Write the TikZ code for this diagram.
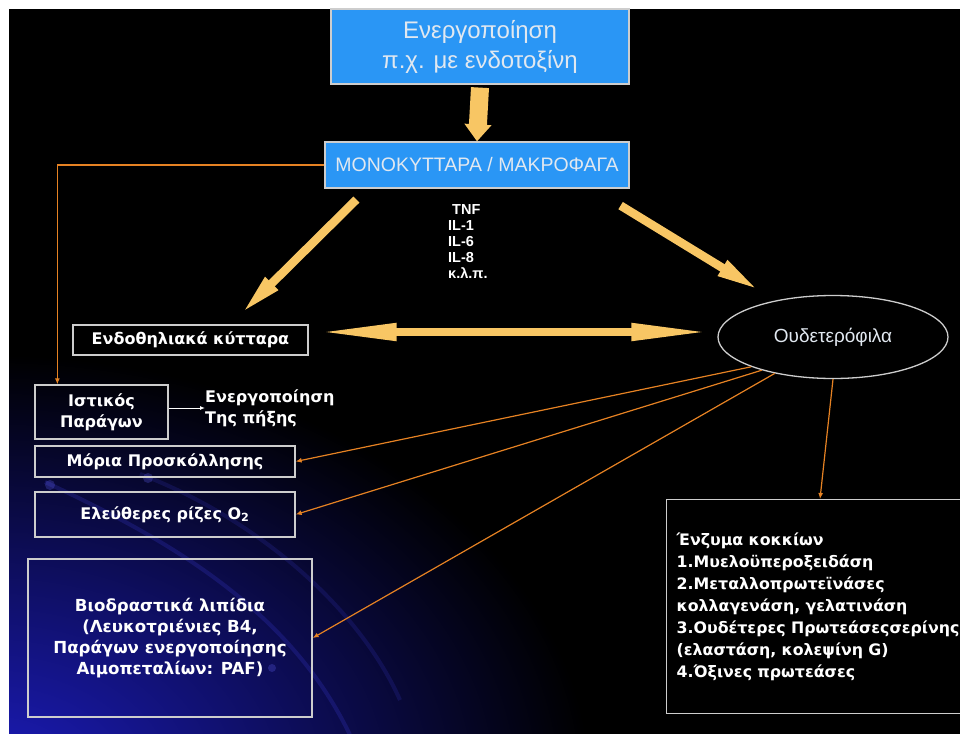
\documentclass[tikz,border=0pt]{standalone}
\usepackage{fontspec}
\setmainfont{Liberation Sans}
\newfontfamily\dvs{DejaVu Sans}
\usetikzlibrary{arrows.meta,shapes.geometric}
\definecolor{bgblue}{RGB}{28,28,190}
\definecolor{boxblue}{RGB}{42,150,245}
\definecolor{fat}{RGB}{248,198,100}
\definecolor{thin}{RGB}{230,130,35}
\definecolor{tipc}{RGB}{252,195,70}
\definecolor{frame}{RGB}{205,205,205}
\definecolor{softw}{RGB}{225,232,240}
\begin{document}
\begin{tikzpicture}[x=1pt,y=-1pt,
  bluebox/.style={draw=frame,line width=1.2pt,fill=boxblue,inner sep=0pt,align=center,text=softw},
  darkbox/.style={draw=frame,line width=1.3pt,inner sep=0pt,align=center,text=white,
    font=\dvs\bfseries\fontsize{16}{21}\selectfont},
  fatarrow/.style={draw=fat,line width=8.5pt,-{Triangle[length=44pt,width=16pt]}},
  thinarrow/.style={draw=thin,line width=1.2pt,-{Latex[length=6pt,width=5pt,fill=tipc]}}]
\useasboundingbox (0,0) rectangle (960,733);
\fill[white] (-5,-5) rectangle (970,745);
\fill[black] (9,9) rectangle (970,745);
\begin{scope}
  \clip (9,9) rectangle (970,745);
  \shade[inner color=bgblue,outer color=black] (-10,785) ellipse (600 and 430);
  \draw[blue!70!white,opacity=0.18,line width=4pt] (45,482) .. controls (170,540) and (290,610) .. (350,735);
  \draw[blue!70!white,opacity=0.14,line width=4pt] (140,474) .. controls (260,520) and (360,610) .. (400,700);
  \fill[blue!60!white,opacity=0.25] (50,485) circle (5);
  \fill[blue!60!white,opacity=0.25] (148,478) circle (5);
  \fill[blue!60!white,opacity=0.25] (272,668) circle (4);
\end{scope}

% nodes
\node[bluebox,minimum width=298,minimum height=75,font=\fontsize{24}{30}\selectfont] (act) at (480,46.5)
  {Ενεργοποίηση\\π.χ. με ενδοτοξίνη};
\node[bluebox,minimum width=304,minimum height=46,font=\fontsize{19.5}{22}\selectfont] (mono) at (477,165)
  {ΜΟΝΟΚΥΤΤΑΡΑ / ΜΑΚΡΟΦΑΓΑ};
\node[text=white,align=left,inner sep=0pt,anchor=north west,
  font=\bfseries\fontsize{14.5}{16}\selectfont] (cyt) at (448,204)
  {\hspace*{4pt}TNF\\IL-1\\IL-6\\IL-8\\κ.λ.π.};
\node[darkbox,minimum width=235,minimum height=30] (endo) at (190.5,340) {Ενδοθηλιακά κύτταρα};
\node[ellipse,draw=frame,line width=1.3pt,minimum width=230,minimum height=83,inner sep=0pt,
  text=softw,font=\fontsize{19}{22}\selectfont] (neu) at (833,337) {Ουδετερόφιλα};
\node[darkbox,minimum width=133,minimum height=54] (ist) at (101.5,412) {Ιστικός\\Παράγων};
\node[text=white,align=left,inner sep=0pt,anchor=west,
  font=\dvs\bfseries\fontsize{16}{21}\selectfont] (pix) at (205,408) {Ενεργοποίηση\\Της πήξης};
\node[darkbox,minimum width=260,minimum height=31] (mor) at (165,461.5) {Μόρια Προσκόλλησης};
\node[darkbox,minimum width=260,minimum height=45] (ele) at (165,514.5) {Ελεύθερες ρίζες O\textsubscript{2}};
\node[darkbox,minimum width=284,minimum height=158,font=\dvs\bfseries\fontsize{16.6}{21}\selectfont] (bio) at (170,638)
  {Βιοδραστικά λιπίδια\\(Λευκοτριένιες Β4,\\Παράγων ενεργοποίησης\\Αιμοπεταλίων: PAF)};
\node[darkbox,minimum width=310,minimum height=214,text width=290,inner xsep=10pt,align=left,
  anchor=north west,font=\dvs\bfseries\fontsize{15.8}{22}\selectfont] (enz) at (666,499)
  {Ένζυμα κοκκίων\\1.Μυελοϋπεροξειδάση\\2.Μεταλλοπρωτεϊνάσες\\κολλαγενάση, γελατινάση\\3.Ουδέτερες Πρωτεάσεςσερίνης\\(ελαστάση, κολεψίνη G)\\4.Όξινες πρωτεάσες};

% fat arrows
\draw[draw=fat,line width=18pt,-{Triangle[length=17pt,width=26pt]}] ([yshift=-3pt]act.south) -- (mono.north);
\draw[fatarrow] ([xshift=32pt,yshift=-11pt]mono.south west) -- ([xshift=50pt,yshift=10pt]endo.north);
\draw[fatarrow] ([xshift=-9pt,yshift=-17pt]mono.south east) -- ([xshift=-73pt,yshift=4pt]neu.north);
\draw[draw=fat,line width=8pt,{Triangle[length=80pt,width=16pt]}-{Triangle[length=80pt,width=16pt]}]
  ([xshift=8pt,yshift=8pt]endo.east) -- ([xshift=-6pt,yshift=5pt]neu.west);

% thin connectors
\draw[thinarrow] (mono.west) -| ([xshift=23pt]ist.north west);
\draw[draw=white,line width=1pt,-{Latex[length=5pt,width=4pt]}] (ist.east |- pix.west) -- (pix.west);
\draw[thinarrow] (neu.200) -- (mor.east);
\draw[thinarrow] (neu.205) -- (ele.east);
\draw[thinarrow] (neu.212) -- (bio.east);
\draw[thinarrow] (neu.south) -- ([xshift=154pt]enz.north west);
\end{tikzpicture}
\end{document}
